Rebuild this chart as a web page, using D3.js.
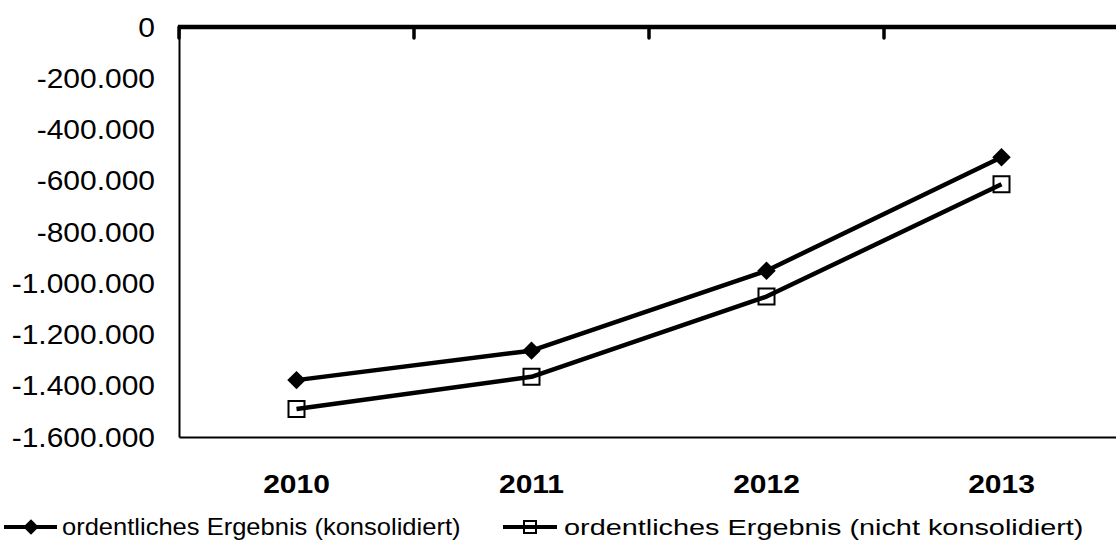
<!DOCTYPE html>
<html>
<head>
<meta charset="utf-8">
<script src="https://cdn.jsdelivr.net/npm/d3@7"></script>
<style>
  body { margin: 0; background: #fff; }
  svg { display: block; }
  text { font-family: "Liberation Sans", Arial, sans-serif; fill: #000; }
</style>
</head>
<body>
<svg id="chart" width="1116" height="550"></svg>
<script>
// Jahre und Ergebnisse (in EUR)
const categories = ["2010", "2011", "2012", "2013"];
const konsolidiert = [-1378000, -1263000, -951000, -508000];
const nichtKonsolidiert = [-1491000, -1365000, -1052000, -614000];
const yTicks = [0, -200000, -400000, -600000, -800000, -1000000, -1200000, -1400000, -1600000];
const seriesNames = ["ordentliches Ergebnis (konsolidiert)", "ordentliches Ergebnis (nicht konsolidiert)"];

const svg = d3.select("#chart");
const stretch = 1.11;

const x = d3.scaleBand().domain(categories).range([179, 1119]).paddingInner(0).paddingOuter(0);
const y = d3.scaleLinear().domain([-1600000, 0]).range([437, 27]);

const de = d3.formatLocale({ decimal: ",", thousands: ".", grouping: [3], currency: ["", " €"], minus: "-" });
const fmt = de.format(",d");

// Linke Achse mit Beschriftung
const yAxis = svg.append("g")
  .attr("transform", `translate(${x.range()[0]},0)`)
  .call(d3.axisLeft(y).tickValues(yTicks).tickFormat(fmt).tickSize(0).tickSizeOuter(0).tickPadding(0));
yAxis.select(".domain").attr("stroke", "#000").attr("stroke-width", 2);
yAxis.selectAll(".tick text")
  .attr("x", 0).attr("dy", "0.34em")
  .attr("font-size", 27)
  .attr("font-family", "Liberation Sans, Arial, sans-serif")
  .attr("transform", `translate(-24,0) scale(${stretch},1)`);

// Untere Begrenzung mit Jahresbeschriftung
const xAxisBottom = svg.append("g")
  .attr("transform", `translate(0,${y(-1600000)})`)
  .call(d3.axisBottom(x).tickSize(0).tickSizeOuter(0).tickPadding(0));
xAxisBottom.select(".domain").attr("stroke", "#000").attr("stroke-width", 2);
xAxisBottom.selectAll(".tick text")
  .attr("y", 0).attr("dy", 0)
  .attr("font-size", 25)
  .attr("font-weight", "bold")
  .attr("font-family", "Liberation Sans, Arial, sans-serif")
  .attr("transform", `translate(0,56) scale(1.2,1)`);

// Kategorienachse bei Null (kräftige Linie) mit Teilstrichen zwischen den Jahren
const zeroAxis = svg.append("g").attr("transform", `translate(0,${y(0)})`);
zeroAxis.append("line")
  .attr("x1", x.range()[0] - 1).attr("x2", x.range()[1])
  .attr("y1", 0).attr("y2", 0)
  .attr("stroke", "#000")
  .attr("stroke-width", 4.5);
zeroAxis.selectAll("line.sep")
  .data(categories)
  .join("line")
  .attr("class", "sep")
  .attr("x1", d => x(d)).attr("x2", d => x(d))
  .attr("y1", 0).attr("y2", 11)
  .attr("stroke", "#000").attr("stroke-width", 3.5)
  .attr("stroke-linecap", "round");

// Linien
const line = d3.line().x((d, i) => x(categories[i]) + x.bandwidth() / 2).y(d => y(d));
const series = [konsolidiert, nichtKonsolidiert];

series.forEach(vals => {
  svg.append("path")
    .datum(vals)
    .attr("d", line)
    .attr("fill", "none")
    .attr("stroke", "#000")
    .attr("stroke-width", 4.5)
    .attr("stroke-linejoin", "round");
});

const diamond = d3.symbol(d3.symbolSquare, 170);
const square = d3.symbol(d3.symbolSquare, 256);

svg.append("g").selectAll("path")
  .data(konsolidiert)
  .join("path")
  .attr("d", diamond)
  .attr("transform", (d, i) => `translate(${x(categories[i]) + x.bandwidth() / 2},${y(d)}) rotate(45)`)
  .attr("fill", "#000");

svg.append("g").selectAll("path")
  .data(nichtKonsolidiert)
  .join("path")
  .attr("d", square)
  .attr("transform", (d, i) => `translate(${x(categories[i]) + x.bandwidth() / 2},${y(d)})`)
  .attr("fill", "none")
  .attr("stroke", "#000")
  .attr("stroke-width", 2);

// Legende
const legendY = 527;
const legendItems = [
  { name: seriesNames[0], x0: 4, x1: 57, mx: 31, tx: 62, sx: 1.11, kind: "diamond" },
  { name: seriesNames[1], x0: 503, x1: 557, mx: 530, tx: 564, sx: 1.255, kind: "square" }
];
const lg = svg.append("g");
legendItems.forEach(it => {
  lg.append("line")
    .attr("x1", it.x0).attr("x2", it.x1)
    .attr("y1", legendY).attr("y2", legendY)
    .attr("stroke", "#000").attr("stroke-width", 4);
  if (it.kind === "diamond") {
    lg.append("path").attr("d", d3.symbol(d3.symbolSquare, 120))
      .attr("transform", `translate(${it.mx},${legendY}) rotate(45)`)
      .attr("fill", "#000");
  } else {
    lg.append("path").attr("d", d3.symbol(d3.symbolSquare, 144))
      .attr("transform", `translate(${it.mx},${legendY})`)
      .attr("fill", "none").attr("stroke", "#000").attr("stroke-width", 2);
  }
  lg.append("text")
    .attr("font-size", 23)
    .attr("transform", `translate(${it.tx},${legendY + 8}) scale(${it.sx},1)`)
    .text(it.name);
});
</script>
</body>
</html>
